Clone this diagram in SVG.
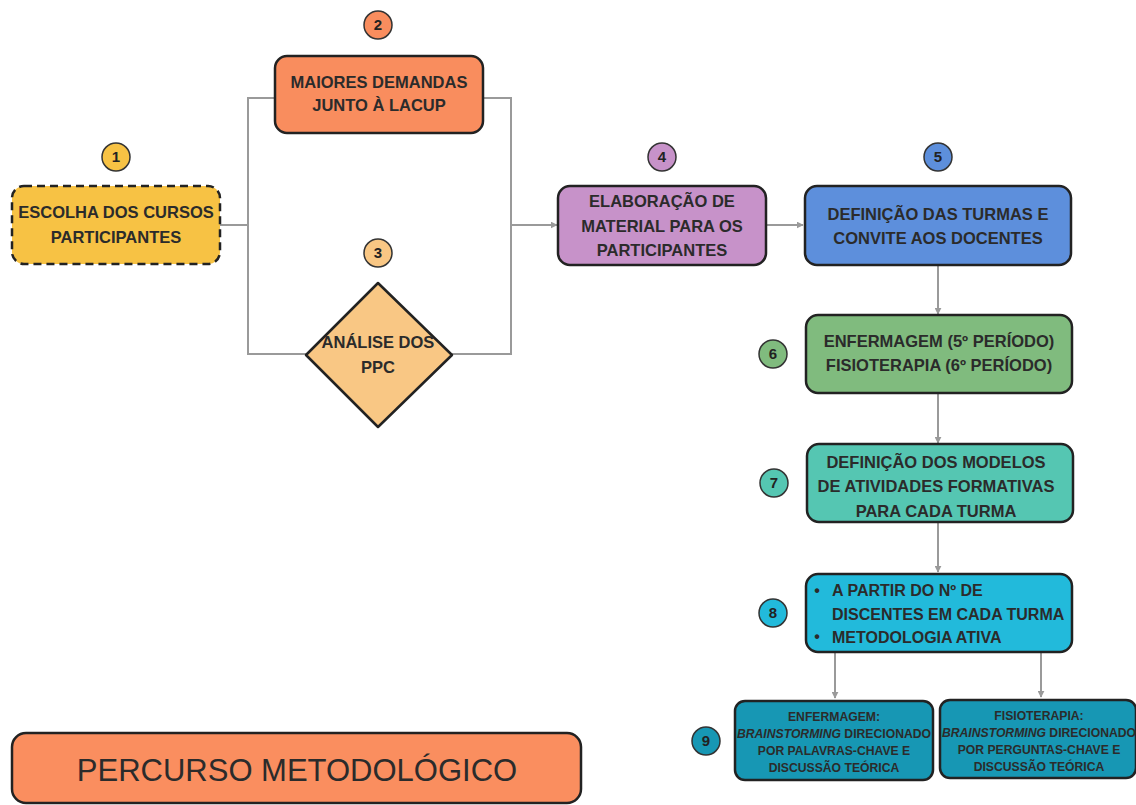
<svg xmlns="http://www.w3.org/2000/svg" width="1136" height="805" viewBox="0 0 1136 805">
<defs>
<style>
.box{stroke:#222;stroke-width:2.5}
.t{font-family:"Liberation Sans",Arial,sans-serif;font-weight:bold;fill:#2b2b2b;text-anchor:middle}
.t15{font-size:16.5px}
.t11{font-size:12.2px}
.badge{stroke:#333;stroke-width:1.5}
.bt{font-family:"Liberation Sans",Arial,sans-serif;font-weight:bold;font-size:15px;fill:#222;text-anchor:middle}
.c{fill:none;stroke:#9a9a9a;stroke-width:2}
</style>
<marker id="ah" viewBox="0 0 10 10" refX="9" refY="5" markerWidth="7" markerHeight="7" orient="auto" markerUnits="userSpaceOnUse">
<path d="M0,0 L10,5 L0,10 z" fill="#9a9a9a"/>
</marker>
</defs>
<rect width="1136" height="805" fill="#fff"/>

<g id="connectors">
<path class="c" d="M220,225 H248"/>
<path class="c" d="M275,98 H248 V354 H306"/>
<path class="c" d="M483,98 H511 V354 H452"/>
<path class="c" d="M511,225 H557" marker-end="url(#ah)"/>
<path class="c" d="M766,225 H803" marker-end="url(#ah)"/>
<path class="c" d="M938,265 V314" marker-end="url(#ah)"/>
<path class="c" d="M938,393 V443" marker-end="url(#ah)"/>
<path class="c" d="M938,522 V572" marker-end="url(#ah)"/>
<path class="c" d="M835,652 V698" marker-end="url(#ah)"/>
<path class="c" d="M1041,652 V697" marker-end="url(#ah)"/>
</g>

<g id="n1">
<rect class="box" x="12" y="186" width="208" height="78" rx="12" fill="#F7C244" stroke-dasharray="8 5"/>
<circle class="badge" cx="116" cy="157" r="14" fill="#F7C244"/>
<text class="bt" x="116" y="162">1</text>
<text class="t t15" x="116" y="218">ESCOLHA DOS CURSOS</text>
<text class="t t15" x="116" y="243">PARTICIPANTES</text>
</g>

<g id="n2">
<rect class="box" x="275" y="56" width="208" height="77" rx="12" fill="#F98D5E"/>
<circle class="badge" cx="378" cy="25" r="14" fill="#F98D5E"/>
<text class="bt" x="378" y="30">2</text>
<text class="t t15" x="379" y="88">MAIORES DEMANDAS</text>
<text class="t t15" x="379" y="111">JUNTO À LACUP</text>
</g>

<g id="n3">
<path class="box" d="M378,283 L452,355 L378,427 L306,355 Z" fill="#F9C784" stroke-linejoin="round"/>
<circle class="badge" cx="378" cy="253" r="14" fill="#F9C784"/>
<text class="bt" x="378" y="258">3</text>
<text class="t t15" x="378" y="348">ANÁLISE DOS</text>
<text class="t t15" x="378" y="373">PPC</text>
</g>

<g id="n4">
<rect class="box" x="558" y="186" width="208" height="79" rx="12" fill="#C792C9"/>
<circle class="badge" cx="662" cy="157" r="14" fill="#C792C9"/>
<text class="bt" x="662" y="162">4</text>
<text class="t t15" x="662" y="207">ELABORAÇÃO DE</text>
<text class="t t15" x="662" y="232">MATERIAL PARA OS</text>
<text class="t t15" x="662" y="256">PARTICIPANTES</text>
</g>

<g id="n5">
<rect class="box" x="805" y="186" width="266" height="79" rx="12" fill="#5D8FDC"/>
<circle class="badge" cx="938" cy="157" r="14" fill="#5D8FDC"/>
<text class="bt" x="938" y="162">5</text>
<text class="t t15" x="938" y="220">DEFINIÇÃO DAS TURMAS E</text>
<text class="t t15" x="938" y="244">CONVITE AOS DOCENTES</text>
</g>

<g id="n6">
<rect class="box" x="806" y="315" width="266" height="78" rx="12" fill="#80BB7E"/>
<circle class="badge" cx="773" cy="354" r="14" fill="#80BB7E"/>
<text class="bt" x="773" y="359">6</text>
<text class="t t15" x="939" y="347">ENFERMAGEM (5º PERÍODO)</text>
<text class="t t15" x="939" y="371">FISIOTERAPIA (6º PERÍODO)</text>
</g>

<g id="n7">
<rect class="box" x="807" y="444" width="266" height="78" rx="12" fill="#55C6B2"/>
<circle class="badge" cx="774" cy="483" r="14" fill="#55C6B2"/>
<text class="bt" x="774" y="488">7</text>
<text class="t t15" x="936" y="468">DEFINIÇÃO DOS MODELOS</text>
<text class="t t15" x="936" y="492">DE ATIVIDADES FORMATIVAS</text>
<text class="t t15" x="936" y="517">PARA CADA TURMA</text>
</g>

<g id="n8">
<rect class="box" x="806" y="574" width="266" height="78" rx="12" fill="#22BADB"/>
<circle class="badge" cx="773" cy="613" r="14" fill="#22BADB"/>
<text class="bt" x="773" y="618">8</text>
<text class="t" font-size="16" x="817" y="596">•</text>
<text class="t" font-size="16" x="817" y="642">•</text>
<text class="t" font-size="16" x="832" y="596" style="text-anchor:start">A PARTIR DO Nº DE</text>
<text class="t" font-size="16" x="832" y="620" style="text-anchor:start">DISCENTES EM CADA TURMA</text>
<text class="t" font-size="16" x="832" y="643" style="text-anchor:start">METODOLOGIA ATIVA</text>
</g>

<g id="n9">
<circle class="badge" cx="706" cy="741" r="14" fill="#1797B4"/>
<text class="bt" x="706" y="746">9</text>
</g>

<g id="n9a">
<rect class="box" x="735" y="701" width="198" height="79" rx="10" fill="#1797B4"/>
<text class="t t11" x="834" y="721">ENFERMAGEM:</text>
<text class="t t11" x="834" y="738"><tspan font-style="italic">BRAINSTORMING</tspan> DIRECIONADO</text>
<text class="t t11" x="834" y="755">POR PALAVRAS-CHAVE E</text>
<text class="t t11" x="834" y="772">DISCUSSÃO TEÓRICA</text>
</g>

<g id="n9b">
<rect class="box" x="940" y="700" width="196" height="78" rx="10" fill="#1797B4"/>
<text class="t t11" x="1039" y="720">FISIOTERAPIA:</text>
<text class="t t11" x="1039" y="737"><tspan font-style="italic">BRAINSTORMING</tspan> DIRECIONADO</text>
<text class="t t11" x="1039" y="754">POR PERGUNTAS-CHAVE E</text>
<text class="t t11" x="1039" y="771">DISCUSSÃO TEÓRICA</text>
</g>

<g id="title">
<rect class="box" x="12" y="733" width="569" height="70" rx="14" fill="#FA8E5F" stroke-width="3"/>
<text class="t" x="297" y="781" font-size="31" style="font-weight:normal" fill="#1a1a1a">PERCURSO METODOLÓGICO</text>
</g>
</svg>
